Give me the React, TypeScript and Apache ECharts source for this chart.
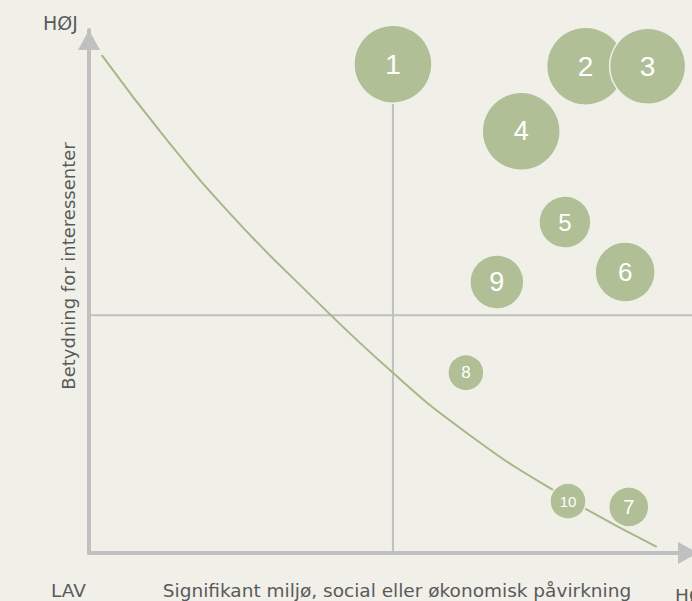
import React, { useEffect, useRef } from "react";
import * as echarts from "echarts";

// Bubble data (x: significant impact, y: importance for stakeholders)
const bubbleIds = ["1", "2", "3", "4", "5", "6", "7", "8", "9", "10"];
const impactValues = [50.0, 81.7, 91.9, 71.1, 78.3, 88.2, 88.8, 62.0, 67.1, 78.8];
const stakeholderValues = [102.8, 102.4, 102.4, 88.7, 69.6, 59.1, 9.7, 37.9, 57.0, 10.9];
const bubbleSizes = [78, 78, 76, 78, 52, 60, 40, 36, 54, 36];
const labelSizes = [28, 28, 28, 27, 24, 26, 20, 17, 27, 15];

// Threshold curve
const curveX = [2.1, 12.8, 23.7, 34.7, 50.0, 62.2, 76.3, 93.4];
const curveY = [104.7, 86.9, 70.7, 56.4, 37.9, 25.2, 13.3, 1.3];

// Quadrant dividers
const midX = 50;
const midY = 50;
const xMax = 99.2;
const yMax = 110;

const BG = "#f0f0e9";
const GREEN = "#b1bf96";
const CURVE = "#a6b788";
const AXIS = "#c0c0c0";
const TEXT = "#5a5a5a";
const FONT = "'DejaVu Sans', sans-serif";

export default function App() {
  const ref = useRef<HTMLDivElement>(null);
  useEffect(() => {
    if (!ref.current) return;
    const chart = echarts.init(ref.current, null, { renderer: "svg" });
    const bubbles = bubbleIds.map((id, i) => ({
      name: id,
      value: [impactValues[i], stakeholderValues[i]],
      symbolSize: bubbleSizes[i],
      label: { fontSize: labelSizes[i] },
    }));
    chart.setOption({
      animation: false,
      backgroundColor: BG,
      grid: { left: 89, top: 30, right: 0, height: 523 },
      xAxis: {
        type: "value",
        min: 0,
        max: xMax,
        splitLine: { show: false },
        axisTick: { show: false },
        axisLabel: { show: false },
        axisLine: {
          show: true,
          onZero: false,
          lineStyle: { color: AXIS, width: 4 },
          symbol: ["none", "triangle"],
          symbolSize: [22, 20],
          symbolOffset: [0, -4],
        },
      },
      yAxis: {
        type: "value",
        min: 0,
        max: yMax,
        splitLine: { show: false },
        axisTick: { show: false },
        axisLabel: { show: false },
        axisLine: {
          show: true,
          onZero: false,
          lineStyle: { color: AXIS, width: 4 },
          symbol: ["none", "triangle"],
          symbolSize: [22, 20],
          symbolOffset: [0, -10],
        },
      },
      series: [
        {
          type: "line",
          data: [[midX, 0], [midX, stakeholderValues[0]]],
          symbol: "none",
          lineStyle: { color: AXIS, width: 2 },
          z: 1,
        },
        {
          type: "line",
          data: [[0, midY], [xMax, midY]],
          symbol: "none",
          lineStyle: { color: AXIS, width: 2 },
          z: 1,
        },
        {
          type: "line",
          data: curveX.map((x, i) => [x, curveY[i]]),
          smooth: 0.5,
          symbol: "none",
          lineStyle: { color: CURVE, width: 2 },
          z: 2,
        },
        {
          type: "scatter",
          data: bubbles,
          z: 3,
          itemStyle: { color: GREEN, opacity: 1, borderColor: BG, borderWidth: 1.5 },
          label: {
            show: true,
            position: "inside",
            formatter: "{b}",
            color: "#ffffff",
            fontFamily: "'Liberation Sans', Arial, sans-serif",
          },
        },
      ],
      graphic: [
        {
          type: "text",
          left: 43,
          top: 13,
          style: { text: "HØJ", fill: TEXT, font: `19px ${FONT}` },
        },
        {
          type: "text",
          left: 51,
          top: 581,
          style: { text: "LAV", fill: TEXT, font: `18.5px ${FONT}` },
        },
        {
          type: "text",
          x: 397,
          y: 590,
          style: {
            text: "Signifikant miljø, social eller økonomisk påvirkning",
            fill: TEXT,
            font: `18.5px ${FONT}`,
            align: "center",
            verticalAlign: "middle",
          },
        },
        {
          type: "text",
          x: 675,
          y: 595,
          style: {
            text: "HØJ",
            fill: TEXT,
            font: `18.5px ${FONT}`,
            align: "left",
            verticalAlign: "middle",
          },
        },
        {
          type: "text",
          x: 68,
          y: 266,
          rotation: Math.PI / 2,
          style: {
            text: "Betydning for interessenter",
            fill: TEXT,
            font: `18px ${FONT}`,
            align: "center",
            verticalAlign: "middle",
          },
        },
      ],
    });
    return () => chart.dispose();
  }, []);
  return (
    <div
      ref={ref}
      style={{ position: "fixed", left: 0, top: 0, width: 692, height: 601, background: BG }}
    />
  );
}
